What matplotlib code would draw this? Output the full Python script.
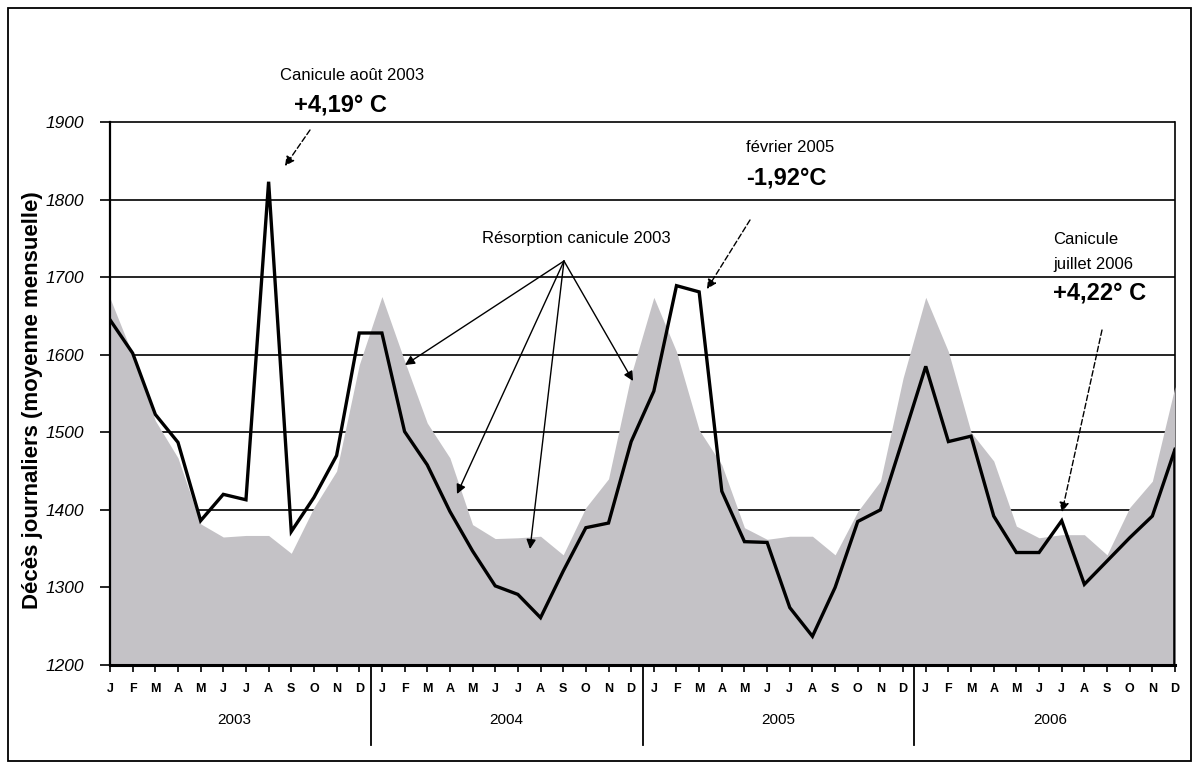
import matplotlib
matplotlib.use('Agg')
import matplotlib.pyplot as plt
from matplotlib.patches import Rectangle
from matplotlib.transforms import blended_transform_factory
import numpy as np

plt.rcParams['font.family'] = ['Liberation Sans', 'DejaVu Sans']

years = ['2003', '2004', '2005', '2006']
month_labels = ['J', 'F', 'M', 'A', 'M', 'J', 'J', 'A', 'S', 'O', 'N', 'D']

# Observed daily deaths (monthly mean), Jan 2003 - Dec 2006
observed = [
    1645, 1602, 1523, 1487, 1386, 1420, 1413, 1823, 1372, 1416, 1470, 1628,
    1628, 1501, 1458, 1398, 1347, 1302, 1291, 1261, 1321, 1377, 1383, 1488,
    1553, 1689, 1681, 1424, 1359, 1358, 1274, 1237, 1300, 1385, 1400, 1492,
    1585, 1488, 1495, 1392, 1345, 1345, 1386, 1304, 1334, 1364, 1392, 1478,
]
# Reference (expected) level, grey area
reference = [
    1673, 1600, 1515, 1467, 1382, 1365, 1367, 1367, 1344, 1403, 1450, 1587,
    1675, 1592, 1512, 1467, 1381, 1363, 1364, 1366, 1342, 1403, 1440, 1574,
    1674, 1604, 1503, 1458, 1377, 1362, 1366, 1366, 1342, 1398, 1437, 1570,
    1674, 1604, 1500, 1463, 1379, 1364, 1368, 1368, 1342, 1403, 1437, 1559,
]
yticks = [1200, 1300, 1400, 1500, 1600, 1700, 1800, 1900]
ylabel = 'Décès journaliers (moyenne mensuelle)'

W, H = 1200, 769
fig = plt.figure(figsize=(W / 100, H / 100), dpi=100)
fig.patch.set_facecolor('white')


def fp(px, py):
    return (px / W, 1 - py / H)


ax = fig.add_axes([110 / W, 1 - 665 / H, (1175 - 110) / W, (665 - 122) / H])
x = np.arange(len(observed))

ax.set_xlim(0, len(observed) - 1)
ax.set_ylim(yticks[0], yticks[-1])

# gridlines (below area)
ax.hlines(yticks[1:], 0, len(observed) - 1, colors='black', lw=1.2, zorder=1, clip_on=False)
ax.fill_between(x, yticks[0], reference, color='#c4c2c6', lw=0, zorder=2)
ax.plot(x, observed, color='black', lw=2.4, zorder=4, solid_joinstyle='miter')
ax.vlines(x[-1], yticks[0], observed[-1], colors='black', lw=2.6, zorder=4)

ax.spines['top'].set_visible(False)
ax.spines['right'].set_zorder(1)
ax.spines['right'].set_linewidth(1.2)
ax.spines['left'].set_linewidth(1.6)
ax.spines['bottom'].set_linewidth(2.2)
ax.spines['left'].set_zorder(5)
ax.spines['bottom'].set_zorder(5)

ax.set_yticks(yticks)
ax.set_yticklabels([str(v) for v in yticks], fontstyle='italic', fontsize=12.5)
ax.tick_params(axis='y', direction='out', length=7, width=1.2, pad=12)

ax.set_xticks(x)
ax.set_xticklabels(month_labels * len(years), fontsize=9, fontweight='bold')
ax.tick_params(axis='x', direction='out', length=5, width=1.2, pad=8)

trans = blended_transform_factory(ax.transData, ax.transAxes)
for k, yr in enumerate(years):
    ax.text(12 * k + 5.5, -0.101, yr, transform=trans, ha='center', va='center', fontsize=11)
    if k > 0:
        ax.plot([12 * k - 0.5] * 2, [0, -0.148], transform=trans, color='black',
                lw=1.3, clip_on=False)

fig.text(*fp(33, 400), ylabel, rotation=90, ha='center', va='center',
         fontsize=16, fontweight='bold')

# Annotations
dash = dict(arrowstyle='-|>', lw=1.0, color='black', linestyle=(0, (4, 2)),
            mutation_scale=14, shrinkA=0, shrinkB=0)
solid = dict(arrowstyle='-|>', lw=1.0, color='black', mutation_scale=14,
             shrinkA=0, shrinkB=0)

fig.text(*fp(352, 76), 'Canicule août 2003', ha='center', va='center', fontsize=12)
fig.text(*fp(340, 105), '+4,19° C', ha='center', va='center', fontsize=17, fontweight='bold')
ax.annotate('', xy=fp(285, 166), xytext=fp(310, 130), xycoords='figure fraction',
            textcoords='figure fraction', arrowprops=dash, annotation_clip=False)

fig.text(*fp(746, 147), 'février 2005', ha='left', va='center', fontsize=12)
fig.text(*fp(746, 178), '-1,92°C', ha='left', va='center', fontsize=17, fontweight='bold')
ax.annotate('', xy=fp(707, 289), xytext=fp(750, 220), xycoords='figure fraction',
            textcoords='figure fraction', arrowprops=dash, annotation_clip=False)

fig.text(*fp(576, 238), 'Résorption canicule 2003', ha='center', va='center', fontsize=12)
for tx, ty in [(405, 365), (457, 494), (530, 549), (633, 381)]:
    ax.annotate('', xy=fp(tx, ty), xytext=fp(564, 261), xycoords='figure fraction',
                textcoords='figure fraction', arrowprops=solid, annotation_clip=False)

fig.text(*fp(1053, 240), 'Canicule', ha='left', va='center', fontsize=12)
fig.text(*fp(1053, 265), 'juillet 2006', ha='left', va='center', fontsize=12)
fig.text(*fp(1053, 293), '+4,22° C', ha='left', va='center', fontsize=17, fontweight='bold')
ax.annotate('', xy=fp(1062, 512), xytext=fp(1102, 330), xycoords='figure fraction',
            textcoords='figure fraction', arrowprops=dash, annotation_clip=False)

# outer frame
fig.patches.append(Rectangle(fp(8, 761), (1191 - 8) / W, (761 - 8) / H,
                             transform=fig.transFigure, fill=False, ec='black', lw=1.3))

fig.savefig('out.png', dpi=100, facecolor='white')
